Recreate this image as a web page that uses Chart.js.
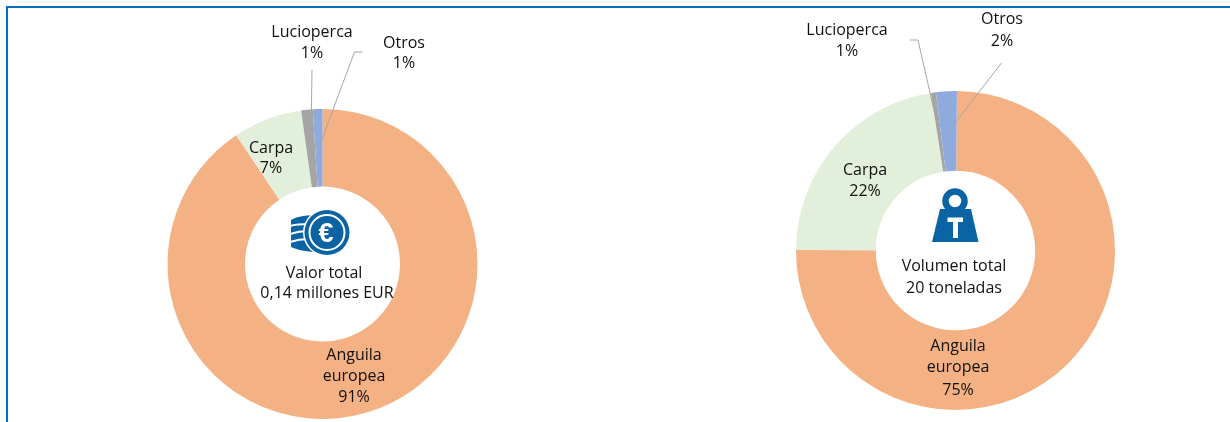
<!DOCTYPE html>
<html>
<head>
<meta charset="utf-8">
<title>Valor y volumen</title>
<script src="https://cdn.jsdelivr.net/npm/chart.js@4"></script>
<style>
html, body { margin: 0; padding: 0; background: #fff; overflow: hidden; }
#page { position: relative; width: 1230px; height: 422px; overflow: hidden; }
#frame { position: absolute; left: 6px; top: 6px; right: -4px; bottom: -4px; border-top: 2px solid #0070c0; border-left: 2px solid #0070c0; }
canvas { position: absolute; }
#value-chart { left: 0; top: 0; }
#volume-chart { left: 655px; top: 0; }
svg { position: absolute; left: 0; top: 0; }
</style>
</head>
<body>
<div id="page">
    <div id="frame"></div>
    <canvas id="value-chart" width="645" height="528"></canvas>
    <canvas id="volume-chart" width="601" height="501"></canvas>
    <svg width="1230" height="422" viewBox="0 0 1230 422">
        <!-- euro coins -->
        <path fill="#0a64a4" d="M291 220 C297 216 308 215 320 215 L320 252 C308 252 297 250 291 247 Z"/>
        <path fill="none" stroke="#fff" stroke-width="2" d="M290 226 C296 224 303 224 311 224 M290 234 C296 232 302 231 308 231 M290 242 C296 240 302 239 308 239"/>
        <circle cx="327" cy="232.500" r="24" fill="#fff"/>
        <circle cx="327" cy="232.500" r="22.500" fill="#0a64a4"/>
        <circle cx="327" cy="232.500" r="17.500" fill="none" stroke="#fff" stroke-width="2"/>
        <text x="326" y="242" font-family="Liberation Sans" font-weight="700" font-size="27" fill="#fff" text-anchor="middle">€</text>
        <!-- weight -->
        <circle cx="955" cy="201" r="9.500" fill="none" stroke="#0a64a4" stroke-width="6.500"/>
        <path fill="#0a64a4" d="M940 209 L971 209 L978.500 242 L932 242 Z"/>
        <path fill="#fff" d="M947.500 217.500 H963 V222 H958 V238 H953 V222 H947.500 Z"/>
    </svg>
</div>
<script>
// Categories and shares
const categories = ['Anguila europea', 'Carpa', 'Lucioperca', 'Otros'];
const valueShares = [90.6, 7.2, 1.2, 1];
const volumeShares = [74.9, 22.5, 0.5, 2.1];
const sliceColors = ['#f4b183', '#e2efda', '#a5a5a5', '#8faadc'];

const FONT = '16px "Open Sans"';

// Draws the text and the leader lines on top of the doughnut
const notesPlugin = {
    id: 'notes',
    afterDraw(chart, args, opts) {
        const ctx = chart.ctx;
        const slices = chart.getDatasetMeta(0).data;
        const cx = slices[0].x;
        const cy = slices[0].y;

        ctx.save();
        ctx.strokeStyle = '#a6a6a6';
        ctx.lineWidth = 1;
        opts.leaders.forEach(function(leader) {
            const end = slices[leader.slice].tooltipPosition();
            ctx.beginPath();
            ctx.moveTo(cx + leader.from[0], cy + leader.from[1]);
            if (leader.elbow) {
                ctx.lineTo(cx + leader.elbow[0], cy + leader.elbow[1]);
            }
            ctx.lineTo(end.x, end.y);
            ctx.stroke();
        });

        ctx.fillStyle = '#111';
        ctx.font = FONT;
        ctx.textAlign = 'center';
        ctx.textBaseline = 'middle';
        opts.texts.forEach(function(item) {
            ctx.fillText(item[0], cx + item[1], cy + item[2]);
        });
        ctx.restore();
    }
};

function makeDoughnut(id, shares, padX, padY, turn, notes) {
    new Chart(document.getElementById(id).getContext('2d'), {
        type: 'doughnut',
        data: {
            labels: categories,
            datasets: [{
                data: shares,
                backgroundColor: sliceColors,
                borderWidth: 0
            }]
        },
        options: {
            responsive: false,
            animation: false,
            cutout: '50%',
            rotation: turn,
            layout: { padding: { left: padX, right: padX, top: padY, bottom: padY } },
            plugins: {
                legend: { display: false },
                tooltip: { enabled: false },
                notes: notes
            }
        },
        plugins: [notesPlugin]
    });
}

makeDoughnut('value-chart', valueShares, 167.5, 109, 0, {
    leaders: [
        { slice: 2, from: [-10.5, -194] },
        { slice: 3, from: [40, -212], elbow: [32, -212] }
    ],
    texts: [
        ['Lucioperca', -10.5, -231.5], ['1%', -10.5, -211],
        ['Otros', 81.5, -221], ['1%', 81.5, -201],
        ['Carpa', -51.5, -116], ['7%', -51.5, -96],
        ['Anguila', 31.5, 91], ['europea', 31.5, 112], ['91%', 31.5, 133],
        ['Valor total', 1.5, 9], ['0,14 millones EUR', 4.5, 29]
    ]
});

makeDoughnut('volume-chart', volumeShares, 141, 91, 0.5, {
    leaders: [
        { slice: 2, from: [-45.5, -210.5], elbow: [-37.5, -210.5] },
        { slice: 3, from: [46, -187.5] }
    ],
    texts: [
        ['Lucioperca', -108.5, -220], ['1%', -108.5, -199],
        ['Otros', 46.5, -231], ['2%', 46.5, -209],
        ['Carpa', -90.5, -80], ['22%', -90.5, -59],
        ['Anguila', 2.5, 96], ['europea', 2.5, 117], ['75%', 2.5, 140],
        ['Volumen total', -1.5, 16], ['20 toneladas', -1.5, 38]
    ]
});
</script>
</body>
</html>
